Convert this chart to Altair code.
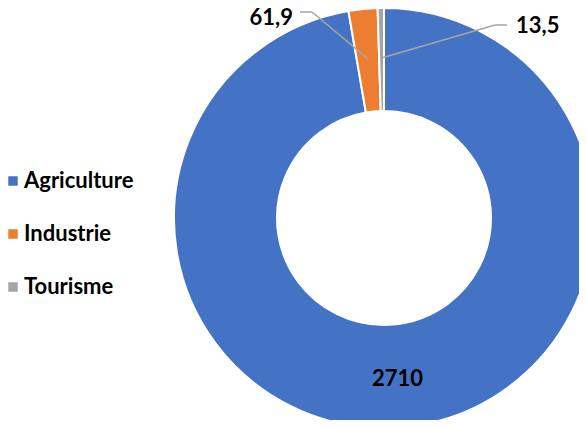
import altair as alt
import pandas as pd

categories = ["Agriculture", "Industrie", "Tourisme"]
values = [2710, 61.9, 13.5]
value_labels = ["2710", "61,9", "13,5"]
colors = ["#4472C4", "#ED7D31", "#A5A5A5"]
orders = [0, 1, 2]

df = pd.DataFrame({"category": categories, "value": values,
                   "label": value_labels, "order": orders})

# layout (pixels in chart coordinates)
CX, CY = 376, 210
R_OUT, R_IN, R_LAB = 210, 107, 160
FONT = "Lato"
FS = 22
# leader elbow / end and text anchor for outside labels
LAY = {
    "Industrie": dict(ex=304, ey=4, fx=292, fy=4, tx=285, ty=17),
    "Tourisme": dict(ex=487, ey=17, fx=499, fy=17, tx=508, ty=25),
}


def pick(key):
    return (f"datum.category == 'Industrie' ? {LAY['Industrie'][key]} : "
            f"{LAY['Tourisme'][key]}")


base = alt.Chart(df)

arcs = base.mark_arc(radius=R_OUT, radius2=R_IN, stroke="white",
                     strokeWidth=2).encode(
    theta=alt.Theta("value:Q", stack=True),
    order=alt.Order("order:Q"),
    color=alt.Color(
        "category:N",
        scale=alt.Scale(domain=categories, range=colors),
        sort=categories,
        legend=alt.Legend(
            title=None, orient="none", legendX=-6, legendY=162,
            symbolType="square", symbolSize=90, symbolStrokeWidth=0,
            labelFont=FONT, labelFontSize=FS, labelFontWeight="bold",
            labelColor="black", rowPadding=31, labelOffset=0, padding=0,
        ),
    ),
    x=alt.value(CX),
    y=alt.value(CY),
)

calc = base.transform_joinaggregate(total="sum(value)").transform_window(
    cum="sum(value)", sort=[alt.SortField("order")], frame=[None, 0]
).transform_calculate(
    ang="(datum.cum - datum.value / 2) / datum.total * 2 * PI",
).transform_calculate(
    px=f"{CX} + {R_LAB} * sin(datum.ang)",
    py=f"{CY} - {R_LAB} * cos(datum.ang)",
)

inner_text = calc.transform_filter("datum.category == 'Agriculture'").mark_text(
    font=FONT, fontSize=FS, fontWeight="bold", color="black",
    align="center", baseline="middle", dy=2,
).encode(
    x=alt.X("px:Q", scale=None, axis=None),
    y=alt.Y("py:Q", scale=None, axis=None),
    text="label:N",
)

outer = calc.transform_filter("datum.category != 'Agriculture'").transform_calculate(
    ex=pick("ex"), ey=pick("ey"), fx=pick("fx"), fy=pick("fy"),
    tx=pick("tx"), ty=pick("ty"),
)

lead1 = outer.mark_rule(color="#A5A5A5", strokeWidth=1.5).encode(
    x=alt.X("px:Q", scale=None, axis=None),
    y=alt.Y("py:Q", scale=None, axis=None),
    x2="ex:Q", y2="ey:Q",
)
lead2 = outer.mark_rule(color="#A5A5A5", strokeWidth=1.5).encode(
    x=alt.X("ex:Q", scale=None, axis=None),
    y=alt.Y("ey:Q", scale=None, axis=None),
    x2="fx:Q", y2="fy:Q",
)

txt_ind = outer.transform_filter("datum.category == 'Industrie'").mark_text(
    font=FONT, fontSize=FS, fontWeight="bold", color="black",
    align="right", baseline="alphabetic",
).encode(
    x=alt.X("tx:Q", scale=None, axis=None),
    y=alt.Y("ty:Q", scale=None, axis=None),
    text="label:N",
)
txt_tou = outer.transform_filter("datum.category == 'Tourisme'").mark_text(
    font=FONT, fontSize=FS, fontWeight="bold", color="black",
    align="left", baseline="alphabetic",
).encode(
    x=alt.X("tx:Q", scale=None, axis=None),
    y=alt.Y("ty:Q", scale=None, axis=None),
    text="label:N",
)

chart = alt.layer(arcs, lead1, lead2, inner_text, txt_ind, txt_tou).properties(
    width=571, height=412, padding=0,
    autosize=alt.AutoSizeParams(type="none"),
).configure_view(stroke=None)

chart.save("out.html", embed_options={"renderer": "svg", "actions": False})
